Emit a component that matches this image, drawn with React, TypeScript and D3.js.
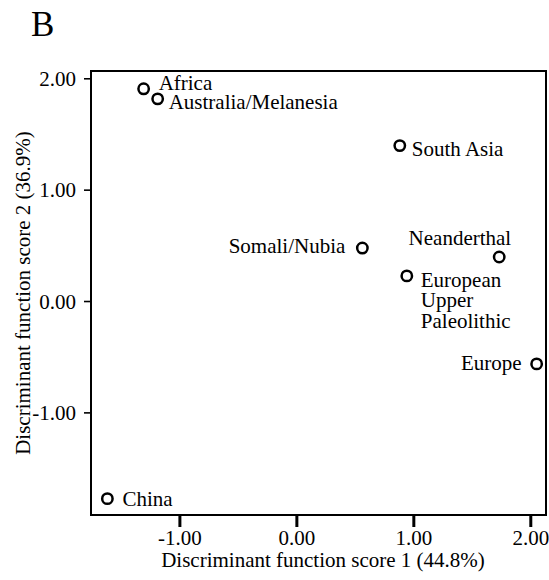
import React from "react";
import * as d3 from "d3";

const groups = [
  "Africa",
  "Australia/Melanesia",
  "South Asia",
  "Somali/Nubia",
  "Neanderthal",
  "European Upper Paleolithic",
  "Europe",
  "China",
];
const score1 = [-1.31, -1.19, 0.88, 0.56, 1.73, 0.94, 2.05, -1.62];
const score2 = [1.91, 1.82, 1.4, 0.48, 0.4, 0.23, -0.56, -1.77];
const xTicks = [-1, 0, 1, 2];
const yTicks = [2, 1, 0, -1];

// label layout (lines, anchor, offsets in px)
const labelLines = [
  ["Africa"],
  ["Australia/Melanesia"],
  ["South Asia"],
  ["Somali/Nubia"],
  ["Neanderthal"],
  ["European", "Upper", "Paleolithic"],
  ["Europe"],
  ["China"],
];
const labelAnchor = ["start", "start", "start", "end", "end", "start", "end", "start"];
const labelDx = [15, 11, 12, -17, 12, 14, -15, 15];
const labelDy = [1, 10, 10, 5, -12, 11, 6, 7];

const W = 549;
const H = 580;
const left = 91, right = 546, top = 71, bottom = 515;
const FONT = "'Liberation Serif', 'Times New Roman', serif";

export default function App() {
  const x = d3.scaleLinear().domain([-1.76, 2.13]).range([left, right]);
  const y = d3.scaleLinear().domain([-1.917, 2.07]).range([bottom, top]);
  const fmt = (v: number) => v.toFixed(2);

  return (
    <svg
      width={W}
      height={H}
      style={{ position: "absolute", left: 0, top: 0, background: "#fff" }}
      fontFamily={FONT}
    >
      <rect x={0} y={0} width={W} height={H} fill="#fff" />
      <text x={31} y={36} fontSize={35} fill="#000">B</text>

      {/* frame */}
      <rect
        x={left}
        y={top}
        width={right - left}
        height={bottom - top}
        fill="none"
        stroke="#000"
        strokeWidth={2}
      />

      {/* y axis ticks */}
      {yTicks.map((t) => (
        <g key={"y" + t}>
          <line x1={left - 7} x2={left} y1={y(t)} y2={y(t)} stroke="#000" strokeWidth={1.6} />
          <text x={left - 15} y={y(t) + 7} fontSize={21} textAnchor="end" fill="#000">
            {fmt(t)}
          </text>
        </g>
      ))}

      {/* x axis ticks */}
      {xTicks.map((t) => (
        <g key={"x" + t}>
          <line x1={x(t)} x2={x(t)} y1={bottom} y2={bottom + 12} stroke="#000" strokeWidth={3} />
          <text x={x(t)} y={bottom + 30} fontSize={21} textAnchor="middle" fill="#000">
            {fmt(t)}
          </text>
        </g>
      ))}

      {/* axis titles */}
      <text x={323} y={567} fontSize={21} textAnchor="middle" fill="#000">
        Discriminant function score 1 (44.8%)
      </text>
      <text
        transform={`translate(30, ${(top + bottom) / 2}) rotate(-90)`}
        fontSize={21}
        textAnchor="middle"
        fill="#000"
      >
        Discriminant function score 2 (36.9%)
      </text>

      {/* points */}
      {groups.map((g, i) => (
        <g key={g}>
          <circle
            cx={x(score1[i])}
            cy={y(score2[i])}
            r={5.2}
            fill="#fff"
            stroke="#000"
            strokeWidth={2.5}
          />
          <text
            x={x(score1[i]) + labelDx[i]}
            y={y(score2[i]) + labelDy[i]}
            fontSize={21}
            textAnchor={labelAnchor[i]}
            fill="#000"
          >
            {labelLines[i].map((ln, j) => (
              <tspan key={j} x={x(score1[i]) + labelDx[i]} dy={j === 0 ? 0 : 20.5}>
                {ln}
              </tspan>
            ))}
          </text>
        </g>
      ))}
    </svg>
  );
}
